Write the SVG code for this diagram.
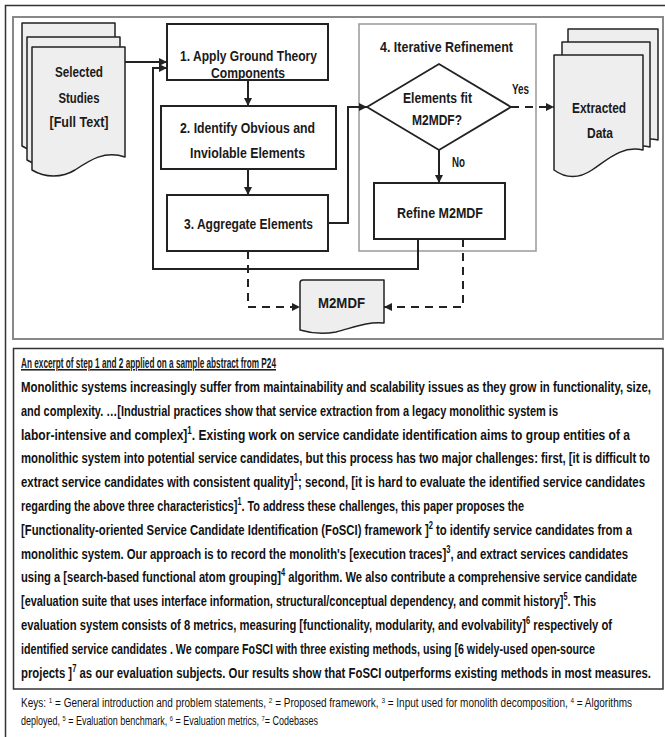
<svg xmlns="http://www.w3.org/2000/svg" width="665" height="737" viewBox="0 0 665 737">
<style>
.box{fill:#fff;stroke:#222;stroke-width:2}
.doc{fill:#eeeeee;stroke:#222;stroke-width:1.5;stroke-linejoin:round}
.lbl{font-family:"Liberation Sans",Arial,sans-serif;font-size:15.5px;font-weight:bold;fill:#1a1a1a;text-anchor:middle}
.conn{fill:none;stroke:#222;stroke-width:2}
.dash{stroke-dasharray:8 6}
.para{font-family:"Liberation Sans",Arial,sans-serif;font-weight:bold;font-size:15px;fill:#111}
.head{font-family:"Liberation Sans",Arial,sans-serif;font-size:15.5px;font-weight:bold;fill:#1a1a1a;text-decoration:underline}
.sup{font-size:10px}
.keys{font-family:"Liberation Sans",Arial,sans-serif;font-size:12.5px;fill:#111}
</style>
<defs>
<marker id="arr" viewBox="0 0 10 10" refX="10" refY="5" markerWidth="9" markerHeight="8" markerUnits="userSpaceOnUse" orient="auto"><path d="M0,0 L10,5 L0,10 z" fill="#222"/></marker>
</defs>
<rect width="665" height="737" fill="#fff"/>
<path d="M5.5,737 V5.5 H665" fill="none" stroke="#333" stroke-width="1.5"/>
<rect x="13" y="17" width="650" height="322" fill="none" stroke="#888" stroke-width="2"/>

<g id="selected-studies">
<path class="doc" d="M22,23 H115 V133 C95,126 80,136 65,146 C52,154 35,154 22,146 Z"/>
<path class="doc" d="M27,37 H120 V147 C100,140 85,150 70,160 C57,168 40,168 27,160 Z"/>
<path class="doc" d="M32,47 H125 V157 C105,150 90,160 75,170 C62,178 45,178 32,170 Z"/>
<text class="lbl" x="79" y="77" textLength="48" lengthAdjust="spacingAndGlyphs">Selected</text>
<text class="lbl" x="79" y="103" textLength="41" lengthAdjust="spacingAndGlyphs">Studies</text>
<text class="lbl" x="79" y="127" textLength="59" lengthAdjust="spacingAndGlyphs">[Full Text]</text>
</g>

<g id="step1">
<rect class="box" x="167" y="24" width="161" height="56"/>
<text class="lbl" x="248.5" y="61" textLength="137" lengthAdjust="spacingAndGlyphs">1. Apply Ground Theory</text>
<text class="lbl" x="248" y="78" textLength="74" lengthAdjust="spacingAndGlyphs">Components</text>
</g>

<g id="step2">
<rect class="box" x="161" y="106" width="175" height="63"/>
<text class="lbl" x="247.5" y="133" textLength="135" lengthAdjust="spacingAndGlyphs">2. Identify Obvious and</text>
<text class="lbl" x="247.5" y="158" textLength="115" lengthAdjust="spacingAndGlyphs">Inviolable Elements</text>
</g>

<g id="step3">
<rect class="box" x="167" y="195" width="161" height="56"/>
<text class="lbl" x="248.5" y="229" textLength="129" lengthAdjust="spacingAndGlyphs">3. Aggregate Elements</text>
</g>

<g id="step4">
<rect x="359" y="24" width="177" height="227" fill="none" stroke="#999" stroke-width="1.5"/>
<text class="lbl" x="446.5" y="52" textLength="133" lengthAdjust="spacingAndGlyphs">4. Iterative Refinement</text>
</g>

<g id="decision">
<polygon points="367,107 439,64 511,107 439,150" fill="#fff" stroke="#222" stroke-width="1.8"/>
<text class="lbl" x="437.5" y="103" textLength="69" lengthAdjust="spacingAndGlyphs">Elements fit</text>
<text class="lbl" x="437" y="125" textLength="50" lengthAdjust="spacingAndGlyphs">M2MDF?</text>
</g>

<g id="refine">
<rect class="box" x="374" y="183" width="131" height="56"/>
<text class="lbl" x="440" y="218" textLength="86" lengthAdjust="spacingAndGlyphs">Refine M2MDF</text>
</g>

<g id="extracted-data">
<path class="doc" d="M568,29 H658 V140 C640,136 625,146 610,154 C595,162 580,160 568,152 Z"/>
<path class="doc" d="M562,42 H650 V147 C632,143 617,153 602,161 C588,169 574,167 562,160 Z"/>
<path class="doc" d="M554,55 H643 V150 C622,145 607,160 592,170 C577,180 565,178 554,170 Z"/>
<text class="lbl" x="599" y="113" textLength="54" lengthAdjust="spacingAndGlyphs">Extracted</text>
<text class="lbl" x="600" y="138" textLength="26" lengthAdjust="spacingAndGlyphs">Data</text>
</g>

<g id="m2mdf">
<path class="doc" d="M303,280 H384 V323 C368,321 352,328 336,332 C320,335 310,333 300,330 V283 Q300,280 303,280 Z"/>
<text class="lbl" x="341.5" y="308" textLength="47" lengthAdjust="spacingAndGlyphs">M2MDF</text>
</g>

<g id="connectors">
<path class="conn" d="M125,62 H167" marker-end="url(#arr)"/>
<path class="conn" d="M418,239 V269 H153 V68 H167" marker-end="url(#arr)"/>
<path class="conn" d="M248,80 V106" marker-end="url(#arr)"/>
<path class="conn" d="M248,169 V195" marker-end="url(#arr)"/>
<path class="conn" d="M328,223 H348 V107 H367" marker-end="url(#arr)"/>
<path class="conn" d="M439,150 V183" stroke-width="1.2" marker-end="url(#arr)"/>
<path class="conn dash" d="M511,107 H554" marker-end="url(#arr)"/>
<path class="conn dash" d="M248,251 V307 H300" marker-end="url(#arr)"/>
<path class="conn dash" d="M463,239 V307 H384" marker-end="url(#arr)"/>
<text class="lbl" x="520.5" y="94" textLength="17" lengthAdjust="spacingAndGlyphs">Yes</text>
<text class="lbl" x="458.5" y="167" textLength="13" lengthAdjust="spacingAndGlyphs">No</text>
</g>

<g id="excerpt">
<rect x="13.5" y="348.5" width="649.5" height="340.5" fill="#fff" stroke="#333" stroke-width="1.5"/>
<text class="head" x="21" y="368" textLength="255" lengthAdjust="spacingAndGlyphs">An excerpt of step 1 and 2 applied on a sample abstract from P24</text>
<text class="para" x="21" y="392" textLength="630" lengthAdjust="spacingAndGlyphs">Monolithic systems increasingly suffer from maintainability and scalability issues as they grow in functionality, size,</text>
<text class="para" x="21" y="415.8" textLength="537" lengthAdjust="spacingAndGlyphs">and complexity. …[Industrial practices show that service extraction from a legacy monolithic system is</text>
<text class="para" x="21" y="439.6" textLength="609" lengthAdjust="spacingAndGlyphs">labor-intensive and complex]<tspan class="sup" dy="-6">1</tspan><tspan dy="6">.  Existing work on service candidate identification aims to group entities of a</tspan></text>
<text class="para" x="21" y="463.4" textLength="629" lengthAdjust="spacingAndGlyphs">monolithic system into potential service candidates, but this process has two major challenges: first, [it is difficult to</text>
<text class="para" x="21" y="487.2" textLength="624" lengthAdjust="spacingAndGlyphs">extract service candidates with consistent quality]<tspan class="sup" dy="-6">1</tspan><tspan dy="6">; second, [it is hard to evaluate the identified service candidates</tspan></text>
<text class="para" x="21" y="511" textLength="503" lengthAdjust="spacingAndGlyphs">regarding the above three characteristics]<tspan class="sup" dy="-6">1</tspan><tspan dy="6">. To address these challenges, this paper proposes the</tspan></text>
<text class="para" x="21" y="534.8" textLength="611" lengthAdjust="spacingAndGlyphs">[Functionality-oriented Service Candidate Identification (FoSCI) framework ]<tspan class="sup" dy="-6">2</tspan><tspan dy="6"> to identify service candidates from a</tspan></text>
<text class="para" x="21" y="558.6" textLength="607" lengthAdjust="spacingAndGlyphs">monolithic system. Our approach is to record the monolith's [execution traces]<tspan class="sup" dy="-6">3</tspan><tspan dy="6">,  and extract services candidates</tspan></text>
<text class="para" x="21" y="582.4" textLength="616" lengthAdjust="spacingAndGlyphs">using a [search-based functional atom grouping]<tspan class="sup" dy="-6">4</tspan><tspan dy="6"> algorithm. We also contribute a comprehensive service candidate</tspan></text>
<text class="para" x="21" y="606.2" textLength="575" lengthAdjust="spacingAndGlyphs">[evaluation suite that uses interface information, structural/conceptual dependency, and commit history]<tspan class="sup" dy="-6">5</tspan><tspan dy="6">. This</tspan></text>
<text class="para" x="21" y="630" textLength="591" lengthAdjust="spacingAndGlyphs">evaluation system consists of 8 metrics, measuring [functionality, modularity, and evolvability]<tspan class="sup" dy="-6">6</tspan><tspan dy="6"> respectively of</tspan></text>
<text class="para" x="21" y="653.8" textLength="574" lengthAdjust="spacingAndGlyphs">identified service candidates . We compare FoSCI with three existing methods, using [6 widely-used open-source</text>
<text class="para" x="21" y="677.6" textLength="630" lengthAdjust="spacingAndGlyphs">projects ]<tspan class="sup" dy="-6">7</tspan><tspan dy="6"> as our evaluation subjects. Our results show that FoSCI outperforms existing methods in most measures.</tspan></text>
</g>

<g id="keys">
<text class="keys" x="21" y="707" textLength="611" lengthAdjust="spacingAndGlyphs">Keys:   <tspan font-size="8" dy="-4">1</tspan><tspan dy="4"> = General introduction and problem statements, </tspan><tspan font-size="8" dy="-4">2</tspan><tspan dy="4"> = Proposed framework, </tspan><tspan font-size="8" dy="-4">3</tspan><tspan dy="4"> = Input used for monolith decomposition,  </tspan><tspan font-size="8" dy="-4">4</tspan><tspan dy="4"> = Algorithms</tspan></text>
<text class="keys" x="21" y="725" textLength="297" lengthAdjust="spacingAndGlyphs">deployed,  <tspan font-size="8" dy="-4">5</tspan><tspan dy="4"> = Evaluation benchmark, </tspan><tspan font-size="8" dy="-4">6</tspan><tspan dy="4"> = Evaluation metrics, </tspan><tspan font-size="8" dy="-4">7</tspan><tspan dy="4">= Codebases</tspan></text>
</g>
</svg>
